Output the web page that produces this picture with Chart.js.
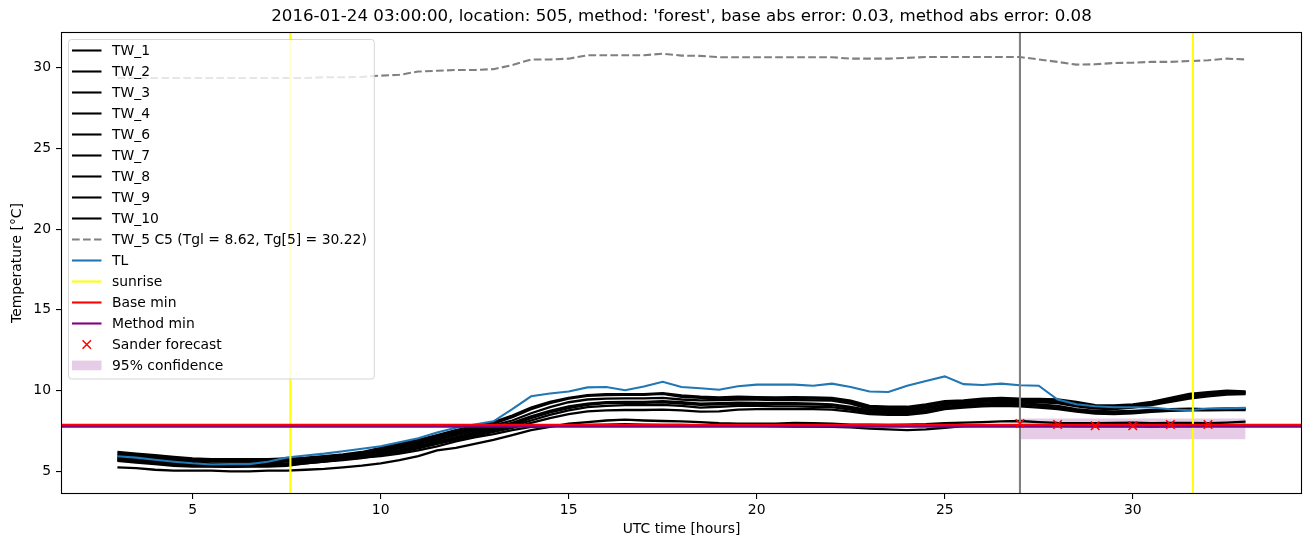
<!DOCTYPE html>
<html lang="en">
<head>
  <meta charset="UTF-8" />
  <title>Temperature 505</title>
  <script src="https://cdn.jsdelivr.net/npm/chart.js"></script>
  <style>
    body { margin: 0; background: #fff; }
  </style>
</head>
<body>
<canvas id="chart" width="1310" height="547"></canvas>
<script>
// axis limits and ticks
const X_MIN = 1.5, X_MAX = 34.5;
const Y_MIN = 3.6, Y_MAX = 32.2;
const xTicks = [5, 10, 15, 20, 25, 30];
const yTicks = [5, 10, 15, 20, 25, 30];

// time axis (UTC hours)
const hours = [3, 3.5, 4, 4.5, 5, 5.5, 6, 6.5, 7, 7.5,
  8, 8.5, 9, 9.5, 10, 10.5, 11, 11.5, 12, 12.5,
  13, 13.5, 14, 14.5, 15, 15.5, 16, 16.5, 17, 17.5,
  18, 18.5, 19, 19.5, 20, 20.5, 21, 21.5, 22, 22.5,
  23, 23.5, 24, 24.5, 25, 25.5, 26, 26.5, 27, 27.5,
  28, 28.5, 29, 29.5, 30, 30.5, 31, 31.5, 32, 32.5,
  33];

const tw1 = [5.25, 5.2, 5.1, 5.05, 5.05, 5.05, 5.0, 5.0, 5.05, 5.05,
  5.1, 5.15, 5.25, 5.35, 5.5, 5.7, 5.95, 6.3, 6.45, 6.7,
  6.95, 7.25, 7.55, 7.75, 7.95, 8.05, 8.15, 8.2, 8.15, 8.12,
  8.1, 8.05, 7.98, 7.96, 7.96, 7.96, 8.0, 7.98, 7.95, 7.9,
  7.9, 7.88, 7.9, 7.92, 7.98, 8.02, 8.05, 8.1, 8.12, 8.05,
  8.0, 7.98, 7.98, 8.0, 8.02, 7.98, 8.0, 8.0, 7.98, 8.02,
  8.08];
const tw2 = [6.0, 5.9, 5.8, 5.72, 5.65, 5.62, 5.6, 5.6, 5.62, 5.68,
  5.75, 5.85, 5.95, 6.08, 6.28, 6.5, 6.75, 7.05, 7.35, 7.6,
  7.85, 8.15, 8.6, 8.98, 9.28, 9.45, 9.5, 9.52, 9.52, 9.55,
  9.45, 9.4, 9.42, 9.45, 9.45, 9.42, 9.42, 9.4, 9.38, 9.2,
  8.85, 8.8, 8.82, 8.95, 9.15, 9.25, 9.35, 9.4, 9.38, 9.35,
  9.3, 9.1, 8.95, 8.92, 9.0, 9.15, 9.4, 9.6, 9.75, 9.85,
  9.85];
const tw3 = [6.2, 6.1, 6.0, 5.9, 5.8, 5.75, 5.75, 5.75, 5.75, 5.8,
  5.85, 5.95, 6.05, 6.2, 6.45, 6.7, 6.95, 7.25, 7.55, 7.8,
  8.05, 8.45, 8.95, 9.3, 9.55, 9.72, 9.78, 9.78, 9.78, 9.85,
  9.7, 9.62, 9.58, 9.62, 9.6, 9.58, 9.6, 9.58, 9.55, 9.38,
  9.05, 9.0, 9.0, 9.15, 9.35, 9.4, 9.5, 9.55, 9.5, 9.48,
  9.45, 9.3, 9.1, 9.08, 9.15, 9.3, 9.55, 9.8, 9.9, 10.0,
  9.95];
const tw4 = [5.8, 5.7, 5.6, 5.52, 5.45, 5.42, 5.4, 5.42, 5.45, 5.5,
  5.6, 5.7, 5.8, 5.92, 6.1, 6.32, 6.58, 6.85, 7.12, 7.4,
  7.65, 7.9, 8.3, 8.65, 8.92, 9.12, 9.22, 9.25, 9.25, 9.28,
  9.2, 9.12, 9.15, 9.2, 9.18, 9.16, 9.16, 9.15, 9.1, 8.92,
  8.7, 8.65, 8.65, 8.78, 9.0, 9.1, 9.2, 9.25, 9.22, 9.15,
  9.05, 8.85, 8.75, 8.72, 8.75, 8.8, 8.85, 8.88, 8.85, 8.9,
  8.9];
const tw6 = [6.1, 6.0, 5.9, 5.8, 5.75, 5.7, 5.7, 5.68, 5.7, 5.75,
  5.8, 5.9, 6.0, 6.15, 6.35, 6.6, 6.85, 7.15, 7.45, 7.7,
  7.95, 8.35, 8.85, 9.22, 9.5, 9.68, 9.73, 9.74, 9.74, 9.8,
  9.62, 9.55, 9.52, 9.56, 9.54, 9.52, 9.52, 9.5, 9.48, 9.3,
  8.95, 8.9, 8.9, 9.05, 9.25, 9.32, 9.45, 9.48, 9.45, 9.42,
  9.4, 9.2, 9.02, 9.0, 9.08, 9.22, 9.45, 9.7, 9.85, 9.92,
  9.9];
const tw7 = [5.75, 5.65, 5.55, 5.48, 5.4, 5.38, 5.35, 5.38, 5.4, 5.45,
  5.55, 5.65, 5.75, 5.88, 6.05, 6.25, 6.5, 6.78, 7.05, 7.3,
  7.55, 7.8, 8.15, 8.5, 8.78, 8.98, 9.05, 9.1, 9.1, 9.12,
  9.05, 8.95, 9.0, 9.05, 9.05, 9.02, 9.02, 9.0, 8.98, 8.82,
  8.62, 8.58, 8.58, 8.7, 8.92, 9.02, 9.1, 9.15, 9.12, 9.05,
  8.95, 8.78, 8.65, 8.62, 8.68, 8.75, 8.8, 8.82, 8.82, 8.85,
  8.85];
const tw8 = [5.65, 5.55, 5.45, 5.35, 5.3, 5.3, 5.28, 5.3, 5.3, 5.35,
  5.5, 5.6, 5.75, 5.85, 5.95, 6.1, 6.3, 6.55, 6.85, 7.1,
  7.3, 7.55, 7.75, 7.82, 7.85, 7.88, 7.9, 7.92, 7.9, 7.88,
  7.88, 7.85, 7.85, 7.82, 7.82, 7.8, 7.78, 7.78, 7.75, 7.72,
  7.65, 7.6, 7.55, 7.6, 7.7, 7.8, 7.82, 7.85, 7.85, 7.85,
  7.82, 7.8, 7.8, 7.82, 7.8, 7.78, 7.8, 7.8, 7.82, 7.85,
  7.88];
const tw9 = [5.9, 5.8, 5.7, 5.62, 5.55, 5.5, 5.5, 5.5, 5.55, 5.6,
  5.68, 5.78, 5.88, 6.0, 6.2, 6.42, 6.68, 6.95, 7.25, 7.5,
  7.75, 8.0, 8.4, 8.75, 9.02, 9.2, 9.28, 9.3, 9.3, 9.35,
  9.28, 9.2, 9.22, 9.25, 9.24, 9.22, 9.22, 9.2, 9.15, 9.0,
  8.78, 8.72, 8.75, 8.88, 9.1, 9.2, 9.3, 9.35, 9.32, 9.28,
  9.22, 9.02, 8.88, 8.85, 8.95, 9.1, 9.3, 9.5, 9.65, 9.75,
  9.78];
const tw10 = [5.7, 5.6, 5.5, 5.42, 5.35, 5.32, 5.3, 5.32, 5.35, 5.4,
  5.5, 5.6, 5.7, 5.82, 6.0, 6.2, 6.42, 6.7, 6.95, 7.2,
  7.45, 7.7, 8.0, 8.3, 8.55, 8.72, 8.78, 8.8, 8.8, 8.82,
  8.78, 8.7, 8.72, 8.82, 8.85, 8.85, 8.86, 8.85, 8.82, 8.7,
  8.55, 8.5, 8.5, 8.62, 8.85, 8.95, 9.02, 9.05, 9.02, 8.95,
  8.85, 8.7, 8.58, 8.55, 8.6, 8.68, 8.75, 8.78, 8.78, 8.8,
  8.8];
const tw5 = [29.35, 29.35, 29.35, 29.35, 29.35, 29.35, 29.35, 29.35, 29.35, 29.35,
  29.35, 29.4, 29.4, 29.42, 29.5, 29.55, 29.75, 29.8, 29.85, 29.85,
  29.9, 30.15, 30.5, 30.5, 30.55, 30.76, 30.76, 30.76, 30.76, 30.86,
  30.74, 30.72, 30.64, 30.64, 30.64, 30.64, 30.64, 30.64, 30.64, 30.55,
  30.55, 30.55, 30.6, 30.65, 30.65, 30.65, 30.65, 30.65, 30.65, 30.5,
  30.35, 30.18, 30.2, 30.28, 30.3, 30.35, 30.35, 30.4, 30.45, 30.55,
  30.5];
const tl = [5.94, 5.85, 5.72, 5.6, 5.5, 5.43, 5.45, 5.45, 5.6, 5.85,
  5.98, 6.1, 6.25, 6.4, 6.56, 6.8, 7.05, 7.4, 7.7, 7.9,
  8.1, 8.85, 9.65, 9.82, 9.95, 10.2, 10.22, 10.02, 10.25, 10.55,
  10.22, 10.15, 10.05, 10.27, 10.37, 10.37, 10.37, 10.3, 10.43, 10.22,
  9.95, 9.91, 10.3, 10.6, 10.88, 10.4, 10.35, 10.43, 10.33, 10.3,
  9.45, 9.15, 9.03, 8.97, 8.97, 8.95, 8.85, 8.78, 8.89, 8.9,
  8.93];

const twNames = ['TW_1', 'TW_2', 'TW_3', 'TW_4', 'TW_6', 'TW_7', 'TW_8', 'TW_9', 'TW_10'];
const twSeries = [tw1, tw2, tw3, tw4, tw6, tw7, tw8, tw9, tw10];

const sunrise = [7.6, 31.6];
const forecastStart = 27.0;
const baseMin = 7.88;
const methodMin = 7.76;
const sanderHours = [27, 28, 29, 30, 31, 32];
const sanderValues = [7.96, 7.9, 7.83, 7.83, 7.9, 7.9];
const confHours = [27, 33];
const confLower = [6.99, 6.99];
const confUpper = [8.28, 8.28];

const titleText = "2016-01-24 03:00:00, location: 505, method: 'forest', base abs error: 0.03, method abs error: 0.08";

const pts = (xs, ys) => xs.map((x, i) => ({ x: x, y: ys[i] }));

// matplotlib line widths are in points (dpi 100)
const LW = 1.5 * 100 / 72;

// datasets, listed bottom to top
const datasets = [];
datasets.push({ data: pts(confHours, confLower), borderWidth: 0, fill: false });
datasets.push({ label: '95% confidence', data: pts(confHours, confUpper), borderWidth: 0,
  fill: { target: 0 }, backgroundColor: 'rgba(128,0,128,0.2)', kind: 'patch' });
twSeries.forEach((s, i) => {
  datasets.push({ label: twNames[i], data: pts(hours, s), borderColor: '#000000', borderWidth: 2.3 });
});
datasets.push({ label: 'TW_5 C5 (Tgl = 8.62, Tg[5] = 30.22)', data: pts(hours, tw5),
  borderColor: '#808080', borderWidth: LW, borderDash: [7.7, 3.3] });
datasets.push({ label: 'TL', data: pts(hours, tl), borderColor: '#1f77b4', borderWidth: LW });
sunrise.forEach((h, i) => {
  datasets.push({ label: i === 0 ? 'sunrise' : '', data: [{ x: h, y: Y_MIN }, { x: h, y: Y_MAX }],
    borderColor: '#ffff00', borderWidth: LW });
});
datasets.push({ label: '', data: [{ x: forecastStart, y: Y_MIN }, { x: forecastStart, y: Y_MAX }],
  borderColor: '#808080', borderWidth: LW });
datasets.push({ label: 'Base min', data: [{ x: X_MIN, y: baseMin }, { x: X_MAX, y: baseMin }],
  borderColor: '#ff0000', borderWidth: LW });
datasets.push({ label: 'Method min', data: [{ x: X_MIN, y: methodMin }, { x: X_MAX, y: methodMin }],
  borderColor: '#800080', borderWidth: LW });
datasets.push({ type: 'scatter', label: 'Sander forecast', data: pts(sanderHours, sanderValues),
  showLine: false, pointStyle: 'crossRot', pointRadius: 6, borderColor: '#ff0000',
  backgroundColor: '#ff0000', borderWidth: 1.5, kind: 'marker' });
// later datasets on top
datasets.forEach((d, i) => { d.order = -i; });

const legendOrder = ['TW_1', 'TW_2', 'TW_3', 'TW_4', 'TW_6', 'TW_7', 'TW_8', 'TW_9', 'TW_10',
  'TW_5 C5 (Tgl = 8.62, Tg[5] = 30.22)', 'TL', 'sunrise', 'Base min', 'Method min',
  'Sander forecast', '95% confidence'];

const FONT = 'DejaVu Sans';
const FS = 13.9;

const framePlugin = {
  id: 'frame',
  afterDatasetsDraw(chart) {
    const { ctx, chartArea: a } = chart;
    ctx.save();
    ctx.strokeStyle = '#000';
    ctx.lineWidth = 1.1;
    ctx.strokeRect(Math.round(a.left) + 0.5, Math.round(a.top) + 0.5,
      Math.round(a.right - a.left) - 1, Math.round(a.bottom - a.top) - 1);
    ctx.restore();
  },
  afterDraw(chart) {
    const { ctx, chartArea: a } = chart;
    ctx.save();
    // title
    ctx.fillStyle = '#000';
    ctx.font = '16.67px "' + FONT + '"';
    ctx.textAlign = 'center';
    ctx.textBaseline = 'middle';
    ctx.fillText(titleText, (a.left + a.right) / 2, 17);

    // legend box, upper left
    ctx.font = FS + 'px "' + FONT + '"';
    let maxW = 0;
    legendOrder.forEach(l => { maxW = Math.max(maxW, ctx.measureText(l).width); });
    const bx = a.left + 7, by = a.top + 7;
    const rowH = 21;
    const textX = bx + 44;
    const bw = 44 + maxW + 7;
    const bh = 11.5 + (legendOrder.length - 1) * rowH + 13;
    ctx.beginPath();
    ctx.roundRect(bx + 0.5, by + 0.5, bw, bh, 3);
    ctx.fillStyle = 'rgba(255,255,255,0.8)';
    ctx.fill();
    ctx.strokeStyle = 'rgba(204,204,204,0.8)';
    ctx.lineWidth = 1;
    ctx.stroke();

    const hx0 = bx + 4, hx1 = bx + 33.5;
    legendOrder.forEach((label, i) => {
      const ds = chart.data.datasets.find(d => d.label === label);
      const y = by + 11.5 + i * rowH;
      ctx.save();
      if (ds.kind === 'patch') {
        ctx.fillStyle = ds.backgroundColor;
        ctx.fillRect(hx0, y - 4.9, hx1 - hx0, 9.7);
      } else if (ds.kind === 'marker') {
        const cx = (hx0 + hx1) / 2, r = 4.2;
        ctx.strokeStyle = ds.borderColor;
        ctx.lineWidth = ds.borderWidth;
        ctx.beginPath();
        ctx.moveTo(cx - r, y - r); ctx.lineTo(cx + r, y + r);
        ctx.moveTo(cx - r, y + r); ctx.lineTo(cx + r, y - r);
        ctx.stroke();
      } else {
        ctx.strokeStyle = ds.borderColor;
        ctx.lineWidth = LW;
        ctx.setLineDash(ds.borderDash || []);
        ctx.beginPath();
        ctx.moveTo(hx0, y); ctx.lineTo(hx1, y);
        ctx.stroke();
      }
      ctx.restore();
      ctx.fillStyle = '#000';
      ctx.textAlign = 'left';
      ctx.textBaseline = 'middle';
      ctx.fillText(label, textX, y + 1);
    });
    ctx.restore();
  }
};

new Chart(document.getElementById('chart'), {
  type: 'line',
  data: { datasets: datasets },
  options: {
    responsive: false,
    devicePixelRatio: 1,
    animation: false,
    layout: { padding: { top: 32, right: 8, bottom: 0, left: 0 } },
    elements: {
      point: { radius: 0 },
      line: { tension: 0, fill: false }
    },
    plugins: {
      legend: { display: false },
      tooltip: { enabled: false },
      title: { display: false },
      filler: { drawTime: 'beforeDatasetsDraw' }
    },
    scales: {
      x: {
        type: 'linear', min: X_MIN, max: X_MAX,
        afterFit(s) { s.height = 53; },
        afterBuildTicks(s) { s.ticks = xTicks.map(v => ({ value: v })); },
        ticks: { color: '#000', font: { family: FONT, size: FS }, padding: 3,
          maxRotation: 0, callback: v => String(v) },
        grid: { drawOnChartArea: false, color: '#000', tickLength: 5, lineWidth: 1.1 },
        border: { display: false },
        title: { display: true, text: 'UTC time [hours]', color: '#000',
          font: { family: FONT, size: FS }, padding: { top: 0, bottom: 9.5 } }
      },
      y: {
        type: 'linear', min: Y_MIN, max: Y_MAX,
        afterFit(s) { s.width = 61; },
        afterBuildTicks(s) { s.ticks = yTicks.map(v => ({ value: v })); },
        ticks: { color: '#000', font: { family: FONT, size: FS }, padding: 5,
          callback: v => String(v) },
        grid: { drawOnChartArea: false, color: '#000', tickLength: 5, lineWidth: 1.1 },
        border: { display: false },
        title: { display: true, text: 'Temperature [°C]', color: '#000',
          font: { family: FONT, size: FS }, padding: { top: 9.5, bottom: 0 } }
      }
    }
  },
  plugins: [framePlugin]
});
</script>
</body>
</html>
